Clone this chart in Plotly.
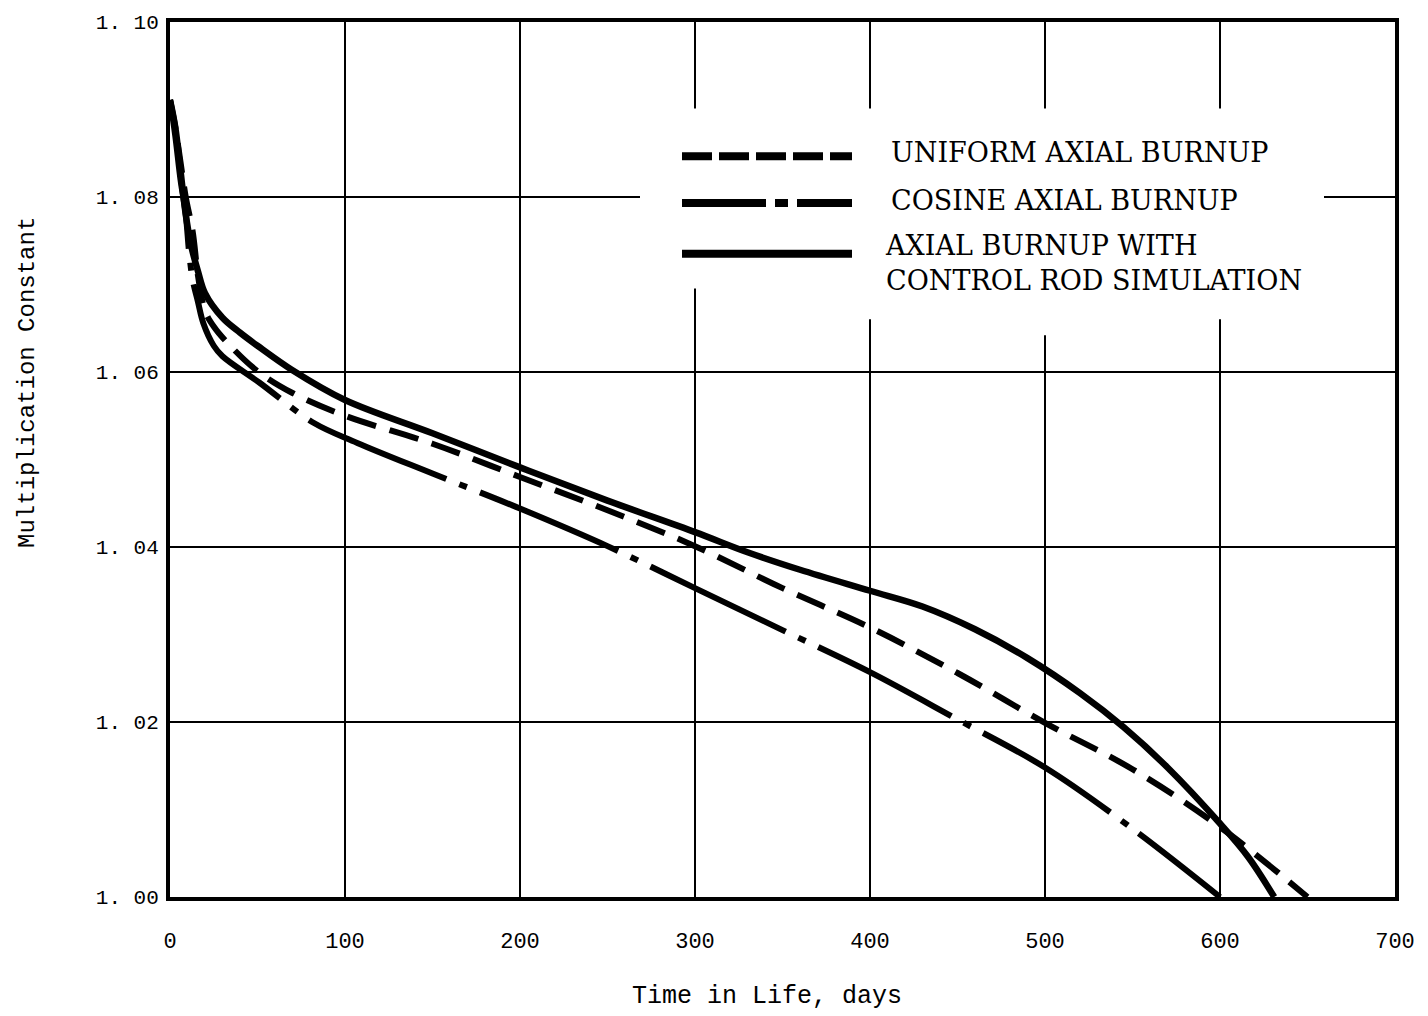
import plotly.graph_objects as go

# Multiplication constant versus time in life for three axial burnup models
days_uniform = [0, 3, 6, 9, 13, 16, 20, 25, 33, 50, 70, 100, 150, 200, 250, 300,
                350, 400, 450, 500, 550, 600, 650]
k_uniform = [1.0911, 1.088, 1.084, 1.080, 1.076, 1.071, 1.0670, 1.0652, 1.0633, 1.0601,
             1.0576, 1.0550, 1.0518, 1.0480, 1.0442, 1.0401, 1.0353, 1.0308, 1.0256,
             1.0199, 1.0146, 1.0080, 1.0000]

days_cosine = [0, 3, 6, 9, 11, 13, 16, 19, 25, 30, 51, 82, 107, 150, 200, 250, 300,
               350, 400, 450, 500, 550, 600]
k_cosine = [1.0911, 1.087, 1.082, 1.078, 1.0735, 1.0705, 1.068, 1.0656, 1.0630, 1.0618,
            1.0588, 1.0542, 1.0519, 1.0484, 1.0444, 1.0401, 1.0353, 1.0305, 1.0257,
            1.0203, 1.0148, 1.0078, 1.0000]

days_rod = [0, 3, 6, 9, 12, 16, 20, 30, 40, 50, 70, 100, 150, 200, 250, 300, 330, 360,
            400, 430, 460, 490, 520, 545, 570, 600, 616, 631]
k_rod = [1.0911, 1.088, 1.083, 1.078, 1.0745, 1.0715, 1.069, 1.0662, 1.0645, 1.063,
         1.0602, 1.0568, 1.0530, 1.0491, 1.0453, 1.0417, 1.0394, 1.0374, 1.0350, 1.0332,
         1.0306, 1.0273, 1.0233, 1.0194, 1.0148, 1.0084, 1.0046, 1.0000]

x_ticks = [0, 100, 200, 300, 400, 500, 600, 700]
y_ticks = [1.00, 1.02, 1.04, 1.06, 1.08, 1.10]
y_tick_text = ["1. 00", "1. 02", "1. 04", "1. 06", "1. 08", "1. 10"]

legend_labels = ["UNIFORM AXIAL BURNUP", "COSINE AXIAL BURNUP",
                 "AXIAL BURNUP WITH<br>CONTROL ROD SIMULATION"]

W, H = 1428, 1016
L, R, T, B = 170, 1395, 17, 897  # plot area in pixels


def fx(px):
    return (px - L) / (R - L)


def fy(py):
    return (B - py) / (B - T)


MONO = "Liberation Mono"
SERIF = "DejaVu Serif"
INK = "black"

fig = go.Figure()

fig.add_trace(go.Scatter(x=days_uniform, y=k_uniform, mode="lines",
                         line=dict(color=INK, width=6, dash="30px,14px",
                                   shape="spline", smoothing=1.0),
                         showlegend=False))
fig.add_trace(go.Scatter(x=days_cosine, y=k_cosine, mode="lines",
                         line=dict(color=INK, width=6, dash="150px,14px,8px,14px",
                                   shape="spline", smoothing=1.0),
                         showlegend=False))
fig.add_trace(go.Scatter(x=days_rod, y=k_rod, mode="lines",
                         line=dict(color=INK, width=6.5, shape="spline", smoothing=1.0),
                         showlegend=False))

shapes = []
# blank panel behind the key
for (x0, x1, y0, y1) in [(640, 1324, 104, 285), (720, 1324, 284, 316),
                         (990, 1110, 315, 332)]:
    shapes.append(dict(type="rect", xref="paper", yref="paper",
                       x0=fx(x0), x1=fx(x1), y0=fy(y1), y1=fy(y0),
                       fillcolor="white", line=dict(width=0), layer="above"))

# key line samples
key_styles = [("30px,7px", 152), ("84px,9px,13px,9px", 199), ("solid", 250)]
for dash, py in key_styles:
    shapes.append(dict(type="line", xref="paper", yref="paper",
                       x0=fx(682), x1=fx(852), y0=fy(py), y1=fy(py),
                       line=dict(color=INK, width=8, dash=dash), layer="above"))

annotations = []
key_text_pos = [(889, 148), (889, 197), (883, 259)]
for label, (px, py) in zip(legend_labels, key_text_pos):
    annotations.append(dict(text=label, xref="paper", yref="paper",
                            x=fx(px), y=fy(py), xanchor="left", yanchor="middle",
                            showarrow=False, align="left",
                            font=dict(family=SERIF, size=27, color=INK)))

annotations.append(dict(text="Time in Life, days", xref="paper", yref="paper",
                        x=fx(767), y=fy(997), xanchor="center", yanchor="middle",
                        showarrow=False, font=dict(family=MONO, size=25, color=INK)))
annotations.append(dict(text="Multiplication Constant", xref="paper", yref="paper",
                        x=fx(28), y=fy(380), xanchor="center", yanchor="middle",
                        textangle=-90, showarrow=False,
                        font=dict(family=MONO, size=24, color=INK)))

fig.update_layout(
    width=W, height=H,
    margin=dict(l=L, r=W - R, t=T, b=H - B),
    paper_bgcolor="white", plot_bgcolor="white",
    shapes=shapes, annotations=annotations,
    showlegend=False,
)

fig.update_xaxes(range=[0, 700], tickvals=x_ticks, ticktext=[str(v) for v in x_ticks],
                 showgrid=True, gridcolor=INK, gridwidth=2, zeroline=False,
                 showline=True, linecolor=INK, linewidth=4, mirror=True,
                 ticks="", ticklabelstandoff=21,
                 tickfont=dict(family=MONO, size=22, color=INK))
fig.update_yaxes(range=[1.00, 1.10], tickvals=y_ticks, ticktext=y_tick_text,
                 showgrid=True, gridcolor=INK, gridwidth=2, zeroline=False,
                 showline=True, linecolor=INK, linewidth=4, mirror=True,
                 ticks="", ticklabelstandoff=3,
                 tickfont=dict(family=MONO, size=21, color=INK))

fig.write_html("out.html")
